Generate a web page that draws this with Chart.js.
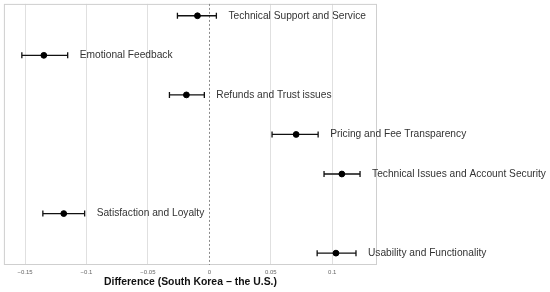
<!DOCTYPE html>
<html><head><meta charset="utf-8">
<script src="https://cdn.jsdelivr.net/npm/chart.js@4.4.0/dist/chart.umd.min.js"></script>
<style>html,body{margin:0;padding:0;background:#fff}#wrap{width:550px;height:292px}</style>
</head><body><div id="wrap"><canvas id="c"></canvas></div>
<script>
const categories = ["Technical Support and Service","Emotional Feedback","Refunds and Trust issues","Pricing and Fee Transparency","Technical Issues and Account Security","Satisfaction and Loyalty","Usability and Functionality"];
const estimates = [-0.0097,-0.1347,-0.0187,0.0706,0.1078,-0.1185,0.1030];
const lower = [-0.0260,-0.1526,-0.0325,0.0510,0.0933,-0.1355,0.0877];
const upper = [0.0057,-0.1153,-0.0041,0.0885,0.1226,-0.1015,0.1193];
const tickValues = [-0.15,-0.1,-0.05,0,0.05,0.1];
const xTitle = "Difference (South Korea \u2212 the U.S.)";

const points = categories.map((c,i)=>({x:estimates[i], y:i}));

const errPlugin = {
  id:'err',
  beforeDatasetsDraw(chart){
    const {ctx, chartArea:a, scales:{x,y}} = chart;
    ctx.save();
    ctx.strokeStyle='#cfcfcf'; ctx.lineWidth=1;
    ctx.strokeRect(a.left+0.5,a.top+0.5,a.right-a.left-1,a.bottom-a.top-1);
    const zx = Math.round(x.getPixelForValue(0))+0.5;
    ctx.strokeStyle='#8a8a8a'; ctx.setLineDash([2,2]);
    ctx.beginPath(); ctx.moveTo(zx,a.top); ctx.lineTo(zx,a.bottom); ctx.stroke();
    ctx.setLineDash([]);
    ctx.strokeStyle='#111'; ctx.lineWidth=1.3;
    categories.forEach((c,i)=>{
      const yy = y.getPixelForValue(i);
      const x1 = x.getPixelForValue(lower[i]), x2 = x.getPixelForValue(upper[i]);
      ctx.beginPath();
      ctx.moveTo(x1,yy); ctx.lineTo(x2,yy);
      ctx.moveTo(x1,yy-3); ctx.lineTo(x1,yy+3);
      ctx.moveTo(x2,yy-3); ctx.lineTo(x2,yy+3);
      ctx.stroke();
    });
    ctx.restore();
  },
  afterDatasetsDraw(chart){
    const {ctx, scales:{x,y}} = chart;
    ctx.save();
    ctx.fillStyle='#333'; ctx.font='10.2px "Liberation Sans", Arial, sans-serif';
    ctx.textBaseline='middle'; ctx.textAlign='left';
    categories.forEach((c,i)=>{
      ctx.fillText(c, x.getPixelForValue(upper[i])+12, y.getPixelForValue(i));
    });
    ctx.restore();
  }
};

new Chart(document.getElementById('c'),{
  type:'scatter',
  data:{datasets:[{data:points, backgroundColor:'#000', borderColor:'#000', pointRadius:2.9, pointHoverRadius:2.9}]},
  options:{
    responsive:true, maintainAspectRatio:false, animation:false,
    layout:{padding:{left:3,top:3,right:173,bottom:0}},
    plugins:{legend:{display:false}, tooltip:{enabled:false}},
    scales:{
      x:{type:'linear', min:-0.1672, max:0.1364,
        afterBuildTicks(s){ s.ticks = tickValues.map(v=>({value:v})); },
        afterFit(s){ s.height=27; },
        border:{display:false},
        grid:{color:ctx=> (ctx.tick && ctx.tick.value===0) ? 'rgba(0,0,0,0)' : '#e0e0e0', lineWidth:1, drawTicks:false},
        ticks:{color:'#666', font:{size:6, family:'"Liberation Sans", Arial, sans-serif'}, padding:4,
          callback:(v)=> (v<0? '\u2212'+String(-v) : String(v))},
        title:{display:true, text:xTitle, color:'#111', font:{size:10.4, weight:'bold', family:'"Liberation Sans", Arial, sans-serif'}, padding:{top:0,bottom:4}}
      },
      y:{type:'linear', display:false, reverse:true, min:-0.3, max:6.3}
    }
  },
  plugins:[errPlugin]
});
</script></body></html>
